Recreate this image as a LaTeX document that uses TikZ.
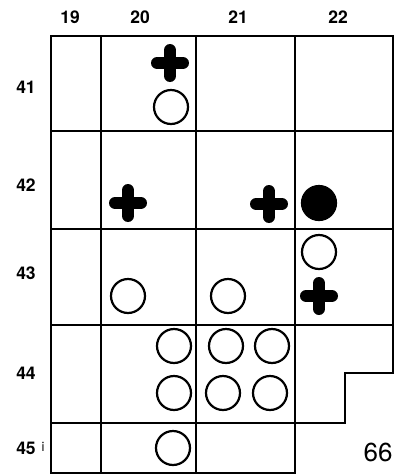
\documentclass[tikz,border=0pt]{standalone}
\usepackage{fontspec}
\setmainfont{TeX Gyre Heros}
\usetikzlibrary{positioning}

\begin{document}
\begin{tikzpicture}[x=1pt, y=-1pt, line width=2.2pt,
  lab/.style={font=\fontsize{17.5}{17.5}\selectfont\bfseries, inner sep=0pt},
  ring/.style={circle, draw, minimum size=34pt, inner sep=0pt},
  dot/.style={ring, fill},
  plus/.style={rectangle, inner sep=0pt, minimum size=38pt, path picture={
    \draw[line width=12.5pt, line cap=round]
      ([xshift=6.25pt]path picture bounding box.west) -- ([xshift=-6.25pt]path picture bounding box.east)
      ([yshift=-6.25pt]path picture bounding box.north) -- ([yshift=6.25pt]path picture bounding box.south);}}]
  \useasboundingbox (0,0) rectangle (402,475);

  % grid
  \draw (51,36) -- (393,36) -- (393,373) -- (345,373) -- (345,423) -- (295,423)
    -- (295,473) -- (51,473) -- cycle;
  \foreach \x in {101,196} \draw (\x,36) -- (\x,473);
  \draw (295,36) -- (295,423);
  \foreach \y in {131,229,325} \draw (51,\y) -- (393,\y);
  \draw (51,423) -- (345,423);

  % labels
  \foreach \n/\x in {19/70,20/140,21/238,22/338}
    \node[lab] (col\n) at (\x,17) {\n};
  \foreach \n/\y in {41/87,42/185,43/273,44/373,45/448}
    \node[lab] (row\n) at (26,\y) {\n};
  \node[font=\fontsize{13}{13}\selectfont, inner sep=0pt] (tick45) at (43,447) {i};
  \node[font=\fontsize{26}{26}\selectfont, inner sep=0pt] (page) at (378,452) {66};

  % marks
  \node[plus] (p41)  at (170,63)  {};
  \node[ring] (r41)  at (171,107) {};
  \node[plus] (p42a) at (128,203) {};
  \node[plus] (p42b) at (269,204) {};
  \node[dot]  (d42)  at (319,203) {};
  \node[ring] (r43a) at (319,252) {};
  \node[plus] (p43)  at (319,296) {};
  \node[ring] (r43b) at (128,296) {};
  \node[ring] (r43c) at (228,296) {};
  \node[ring] (r44a) at (174,346) {};
  \node[ring] (r44b) at (226,346) {};
  \node[ring] (r44c) at (272,346) {};
  \node[ring] (r44d) at (174,393) {};
  \node[ring] (r44e) at (223,393) {};
  \node[ring] (r44f) at (270,393) {};
  \node[ring] (r45)  at (173,448) {};
\end{tikzpicture}
\end{document}
